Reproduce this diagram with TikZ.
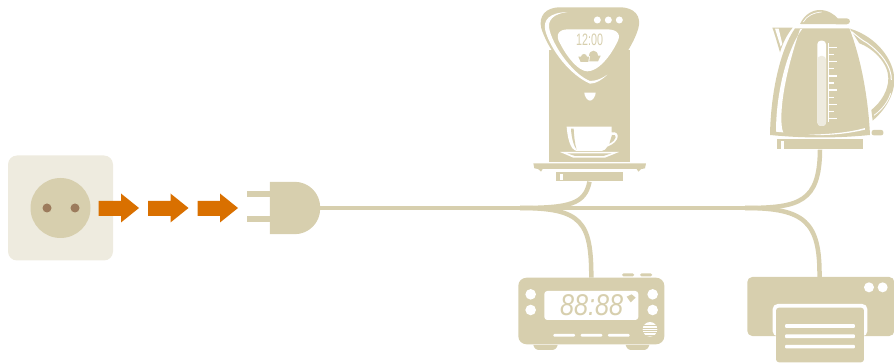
\documentclass[tikz,border=0pt]{standalone}
\usepackage{fontspec}
\usetikzlibrary{positioning}
\newfontfamily\lcdfont{Liberation Sans}
\definecolor{applbeige}{HTML}{D7CFAE}
\definecolor{socketpale}{HTML}{EEEBDF}
\definecolor{holebrown}{HTML}{9C7B5C}
\definecolor{flamorange}{HTML}{D97000}

\begin{document}
\begin{tikzpicture}[
    x=1pt, y=-1pt,
    cable/.style={draw=applbeige, line width=4.5pt},
    solid/.style={fill=applbeige, draw=none},
    cutout/.style={fill=white, draw=none},
    body/.style={rectangle, fill=applbeige, inner sep=0pt, rounded corners=#1},
    body/.default=0pt,
    flow/.style={fill=flamorange, draw=none},
    zoomed/.style={x=0.3333pt, y=-0.3333pt}
]
\useasboundingbox (0,0) rectangle (894,363);

\node[rectangle, fill=socketpale, rounded corners=9pt, minimum width=105pt, minimum height=105pt, inner sep=0pt] (socket) at (60.5,208) {};
\node[circle, fill=applbeige, minimum size=60pt, inner sep=0pt] (socketface) at (socket.center) {};
\foreach \holex in {47,75}
    \fill[holebrown] (\holex,208) circle (4.5pt);

\foreach \arrowx in {98.5,148,197.5}
    \fill[flow, shift={(\arrowx,0)}] (0,201) -- (22.5,201) -- (22.5,193.5) -- (40.5,208) -- (22.5,222.5) -- (22.5,216) -- (0,216) -- cycle;

\node[minimum width=50pt, minimum height=52pt, inner sep=0pt] (plug) at (295,208) {};
\coordinate (splitA) at (520,208);
\coordinate (splitB) at (745,208);

\node[body=8pt, minimum width=146pt, minimum height=66.5pt] (clock) at (591.3,311) {};
\node[body=5pt, minimum width=147pt, minimum height=59pt] (printer) at (820.8,306.5) {};
\node[body, minimum width=67pt, minimum height=9pt] (coffeebase) at (589.5,177) {};
\node[body, minimum width=86pt, minimum height=10pt] (kettlebase) at (820,144.5) {};

\draw[cable] (plug.east) -- (splitA) -- (splitB);
\draw[cable] (splitA) .. controls (570,208) and (585,204) .. (coffeebase.south);
\draw[cable] (splitA) .. controls (582,208) and (591.3,222) .. (clock.north);
\draw[cable] (splitB) .. controls (800,208) and (819.5,202) .. (kettlebase.south);
\draw[cable] (splitB) .. controls (805,208) and (820,222) .. ([xshift=-1.3pt]printer.north);

\fill[solid, rounded corners=25.5pt] (plug.north west) -- (plug.north east) -- (plug.south east) [sharp corners] -- (plug.south west) -- cycle;
\foreach \prongy in {190.7,216}
    \fill[solid] (247,\prongy) rectangle (271,\prongy+6);

\begin{scope}[shift={(510,0)}, zoomed]
    \fill[solid] (118,150) rectangle (360,485);
    \fill[solid] (150,22) -- (330,22) .. controls (375,22) and (395,50) .. (385,85)
        .. controls (370,140) and (300,245) .. (240,265)
        .. controls (180,245) and (110,140) .. (94,85)
        .. controls (85,50) and (105,22) .. (150,22) -- cycle;
    \fill[cutout] (172,36) .. controls (118,38) and (98,60) .. (106,92)
        .. controls (122,150) and (180,225) .. (240,251)
        .. controls (258,251) and (275,240) .. (292,224)
        .. controls (275,236) and (258,243) .. (240,243)
        .. controls (195,226) and (135,150) .. (119,92)
        .. controls (110,60) and (130,42) .. (172,36) -- cycle;
    \fill[cutout] (175,88) -- (290,88) .. controls (325,88) and (335,105) .. (320,130)
        .. controls (300,170) and (265,214) .. (232,214)
        .. controls (205,214) and (170,170) .. (150,130)
        .. controls (135,105) and (145,88) .. (175,88) -- cycle;
    \foreach \dotx in {262,295,328}
        \fill[cutout] (\dotx,60) circle (3.5pt);
    \node[text=applbeige, inner sep=0pt, font=\lcdfont\fontsize{16.5}{16.5}\selectfont, xscale=0.65] (coffeetime) at (239,118) {12:00};
    \fill[solid] (205,170) -- (237,170) -- (235,186) -- (212,186) -- cycle;
    \fill[solid] (240,167) -- (272,167) -- (264,184) -- (238,184) -- cycle;
    \fill[solid] (212,170) .. controls (212,158) and (232,158) .. (232,170) -- cycle;
    \fill[solid] (238,167) .. controls (238,148) and (264,148) .. (264,167) -- cycle;
    \fill[cutout] (223,278) -- (257,278) .. controls (257,290) and (247,302) .. (240,302) .. controls (233,302) and (223,290) .. (223,278) -- cycle;
    \fill[cutout] (170,380) -- (305,380) -- (305,397) .. controls (330,392) and (332,425) .. (292,440)
        .. controls (288,448) and (282,452) .. (275,453) -- (200,453) .. controls (180,450) and (172,410) .. (170,380) -- cycle;
    \fill[solid] (183,386) .. controls (184,410) and (190,435) .. (200,450) .. controls (194,430) and (192,405) .. (191,386) -- cycle;
    \fill[solid] (306,405) .. controls (322,400) and (322,420) .. (298,431) -- cycle;
    \fill[cutout] (150,456) -- (327,456) -- (285,473) -- (190,473) -- cycle;
    \fill[solid] (172,460) -- (305,460) -- (280,468) -- (195,468) -- cycle;
    \fill[solid] (70,490) -- (408,490) -- (405,505) .. controls (395,505) and (390,508) .. (385,515) -- (380,507) -- (98,507) -- (93,515) .. controls (88,508) and (83,505) .. (73,505) -- cycle;
    \fill[cutout] (150,523) rectangle (160,541);
\end{scope}

\begin{scope}[shift={(750,0)}, zoomed]
    \fill[solid] (150,72) .. controls (165,40) and (190,30) .. (210,30) .. controls (235,30) and (255,45) .. (263,55) -- (290,55) .. controls (303,55) and (303,73) .. (290,73) -- cycle;
    \draw[white, line width=0.7pt] (160,66) .. controls (170,48) and (190,38) .. (215,36);
    \fill[solid] (67,83) -- (128,83) .. controls (110,105) and (98,130) .. (90,157) .. controls (82,130) and (75,105) .. (67,83) -- cycle;
    \fill[cutout] (75,86) -- (86,86) -- (97,132) -- (92,140) -- cycle;
    \fill[solid] (135,85) -- (298,85) .. controls (335,180) and (355,300) .. (360,405) .. controls (260,415) and (160,415) .. (60,405) .. controls (62,280) and (90,150) .. (135,85) -- cycle;
    \fill[cutout] (157,86) .. controls (110,150) and (78,280) .. (78,395) .. controls (83,396) and (95,397) .. (100,397) .. controls (90,380) and (85,280) .. (150,88) -- cycle;
    \fill[cutout] (175,404) .. controls (240,403) and (300,397) .. (345,384) -- (345,389) .. controls (290,402) and (230,408) .. (175,404) -- cycle;
    \fill[solid] (300,86) .. controls (380,110) and (433,180) .. (433,240) .. controls (433,290) and (400,335) .. (368,362) -- (364,330)
        .. controls (395,305) and (415,270) .. (415,235) .. controls (415,190) and (370,145) .. (328,130) -- cycle;
    \draw[white, line width=1pt] (305,95) .. controls (330,115) and (335,120) .. (350,128) .. controls (395,160) and (425,200) .. (424,240);
    \draw[white, line width=0.8pt] (372,346) .. controls (395,330) and (415,305) .. (422,280);
    \fill[solid, rounded corners=2pt] (365,390) rectangle (400,406);
    \fill[cutout, rounded corners=3.5pt] (202,122) rectangle (228,378);
    \fill[socketpale, rounded corners=3.5pt] (202,168) rectangle (228,378);
    \draw[white, line width=1.2pt] (235,130) -- (235,366);
    \foreach \tickstep in {0,...,10}
        \draw[white, line width=1.2pt] (235,143+\tickstep*21.2) -- ++({mod(\tickstep,2)==0 ? 26 : 18},0);
    \fill[cutout] (92,422) rectangle (102,446);
\end{scope}

\begin{scope}[shift={(510,265)}, zoomed]
    \foreach \knobx in {336,390}
        \fill[solid, rounded corners=1.5pt] (\knobx,25) rectangle (\knobx+37,34);
    \fill[cutout, rounded corners=3pt] (103,78) rectangle (385,165);
    \foreach \knobx in {62,428}
        \foreach \knoby in {88,135}
            \fill[cutout] (\knobx,\knoby) circle (5.3pt);
    \node[text=applbeige, inner sep=0pt, font=\lcdfont\itshape\fontsize{30}{30}\selectfont, xscale=0.84] (clocktime) at (245,121) {88:88};
    \fill[solid] (350,95) -- (365,88) -- (377,98) -- (362,112) -- cycle;
    \foreach \barx in {130,212,294}
        \fill[cutout, rounded corners=1pt] (\barx,207) rectangle (\barx+65,215);
    \fill[cutout] (420,193) circle (7.3pt);
    \foreach \grilley in {179,186,193,200,207}
        \draw[applbeige, line width=0.7pt] (395,\grilley+3.5) -- (445,\grilley+3.5);
    \fill[solid] (70,240) -- (143,240) .. controls (140,250) and (135,255) .. (125,255) -- (88,255) .. controls (78,255) and (73,250) .. (70,240) -- cycle;
    \fill[solid] (347,240) -- (418,240) .. controls (415,250) and (410,255) .. (400,255) -- (365,255) .. controls (355,255) and (350,250) .. (347,240) -- cycle;
\end{scope}

\begin{scope}[shift={(740,265)}, zoomed]
    \foreach \lampx in {387,428}
        \fill[cutout] (\lampx,67) circle (5pt);
    \fill[cutout, rounded corners=5pt] (98,214) -- (98,117) -- (382,117) -- (382,214) -- cycle;
    \fill[solid, rounded corners=3pt] (108,292) -- (108,128) -- (372,128) -- (372,292) -- cycle;
    \foreach \liney in {183,214,245}
        \fill[cutout, rounded corners=1pt] (135,\liney-5.5) rectangle (345,\liney+5.5);
\end{scope}
\end{tikzpicture}
\end{document}
